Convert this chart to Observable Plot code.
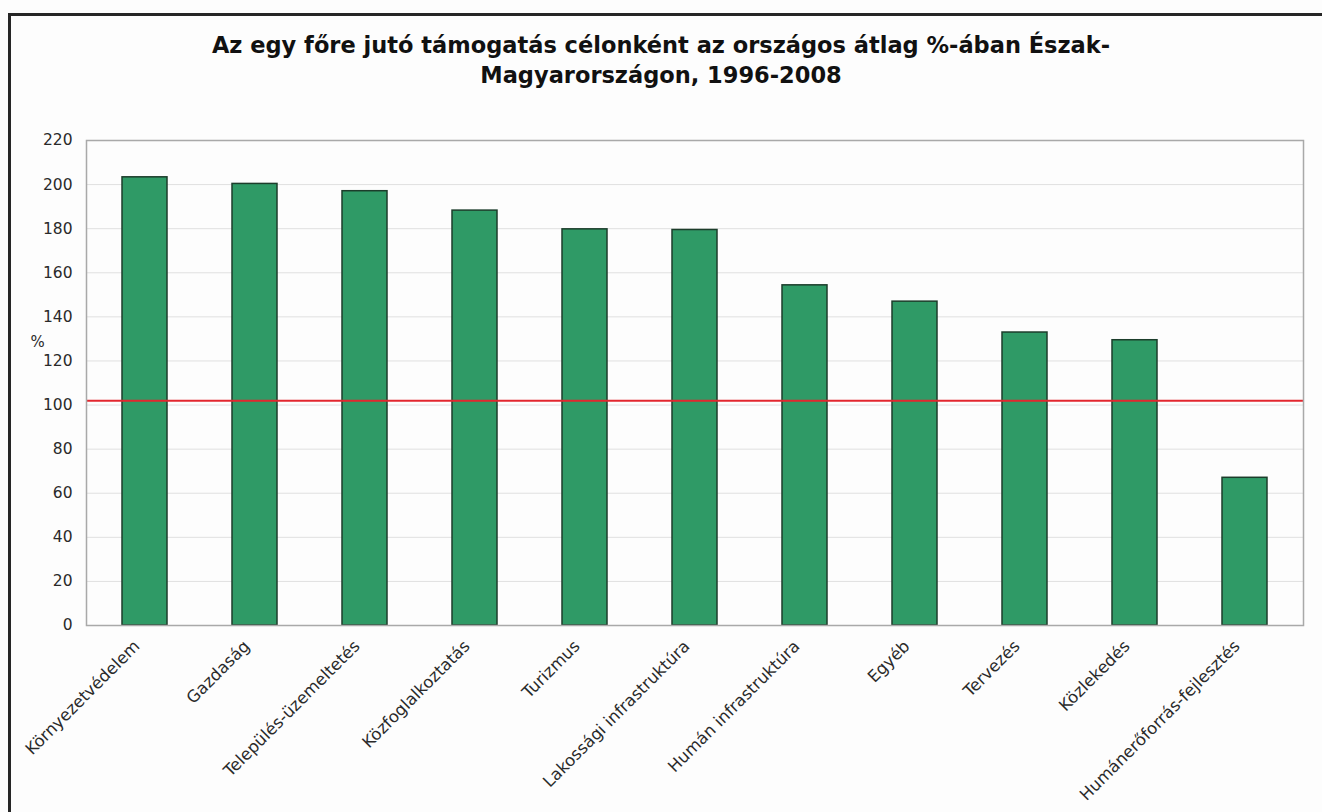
<!DOCTYPE html>
<html><head><meta charset="utf-8">
<script src="https://cdn.jsdelivr.net/npm/d3@7"></script>
<script src="https://cdn.jsdelivr.net/npm/@observablehq/plot@0.6"></script>
<style>
body{margin:0;background:#fff;}
#wrap{position:relative;width:1322px;height:812px;overflow:hidden;background:#fdfdfd;font-family:"DejaVu Sans",Verdana,sans-serif;}
#border{position:absolute;left:8px;top:13px;width:1400px;height:900px;border-left:3px solid #262626;border-top:3px solid #262626;box-sizing:border-box;pointer-events:none;}
#title{position:absolute;top:30px;left:0;width:1322px;text-align:center;font-weight:bold;font-size:22.5px;line-height:30px;color:#111;}
#chart{position:absolute;top:110px;left:0;}
</style></head><body>
<div id="wrap"><div id="border"></div><div id="title">Az egy főre jutó támogatás célonként az országos átlag %-ában Észak-<br>Magyarországon, 1996-2008</div><div id="chart"></div></div>
<script>
const categories = ["Környezetvédelem","Gazdaság","Település-üzemeltetés","Közfoglalkoztatás","Turizmus","Lakossági infrastruktúra","Humán infrastruktúra","Egyéb","Tervezés","Közlekedés","Humánerőforrás-fejlesztés"];
const values = [203.3, 200.3, 197.0, 188.2, 179.7, 179.4, 154.3, 146.9, 132.9, 129.4, 67.0];
const nationalAverage = 102;
const yTicks = [0,20,40,60,80,100,120,140,160,180,200,220];
const yUnit = "%";

const data = categories.map((c,i)=>({cat:c, value:values[i]}));

const chart = Plot.plot({
  width:1322, height:702,
  marginLeft:86, marginRight:19, marginTop:30, marginBottom:187,
  style:{fontFamily:'"DejaVu Sans", Verdana, sans-serif', fontSize:"15px", color:"#2a2a2a", background:"transparent", overflow:"visible"},
  x:{domain:categories, paddingInner:0.59, paddingOuter:0.295, label:null},
  y:{domain:[0,220], label:null},
  marks:[
    Plot.gridY(yTicks, {stroke:"#e0e0e0", strokeOpacity:1}),
    Plot.axisY(yTicks, {tickSize:0, tickPadding:14, label:null, fontSize:15.5}),
    Plot.axisX({tickSize:0, tickRotate:-45, tickPadding:18, dx:-8, label:null, fontSize:16.5}),
    Plot.barY(data, {x:"cat", y:"value", fill:"#2f9a66", stroke:"#1c3d2b", strokeWidth:1.5}),
    Plot.ruleY([nationalAverage], {stroke:"#e2262e", strokeWidth:2}),
    Plot.frame({stroke:"#a9a9a9", strokeWidth:1.5}),
    Plot.text([yUnit], {text:d=>d, frameAnchor:"left", dx:-56, dy:-41, fontSize:15})
  ]
});
document.getElementById("chart").appendChild(chart);
</script>
</body></html>
